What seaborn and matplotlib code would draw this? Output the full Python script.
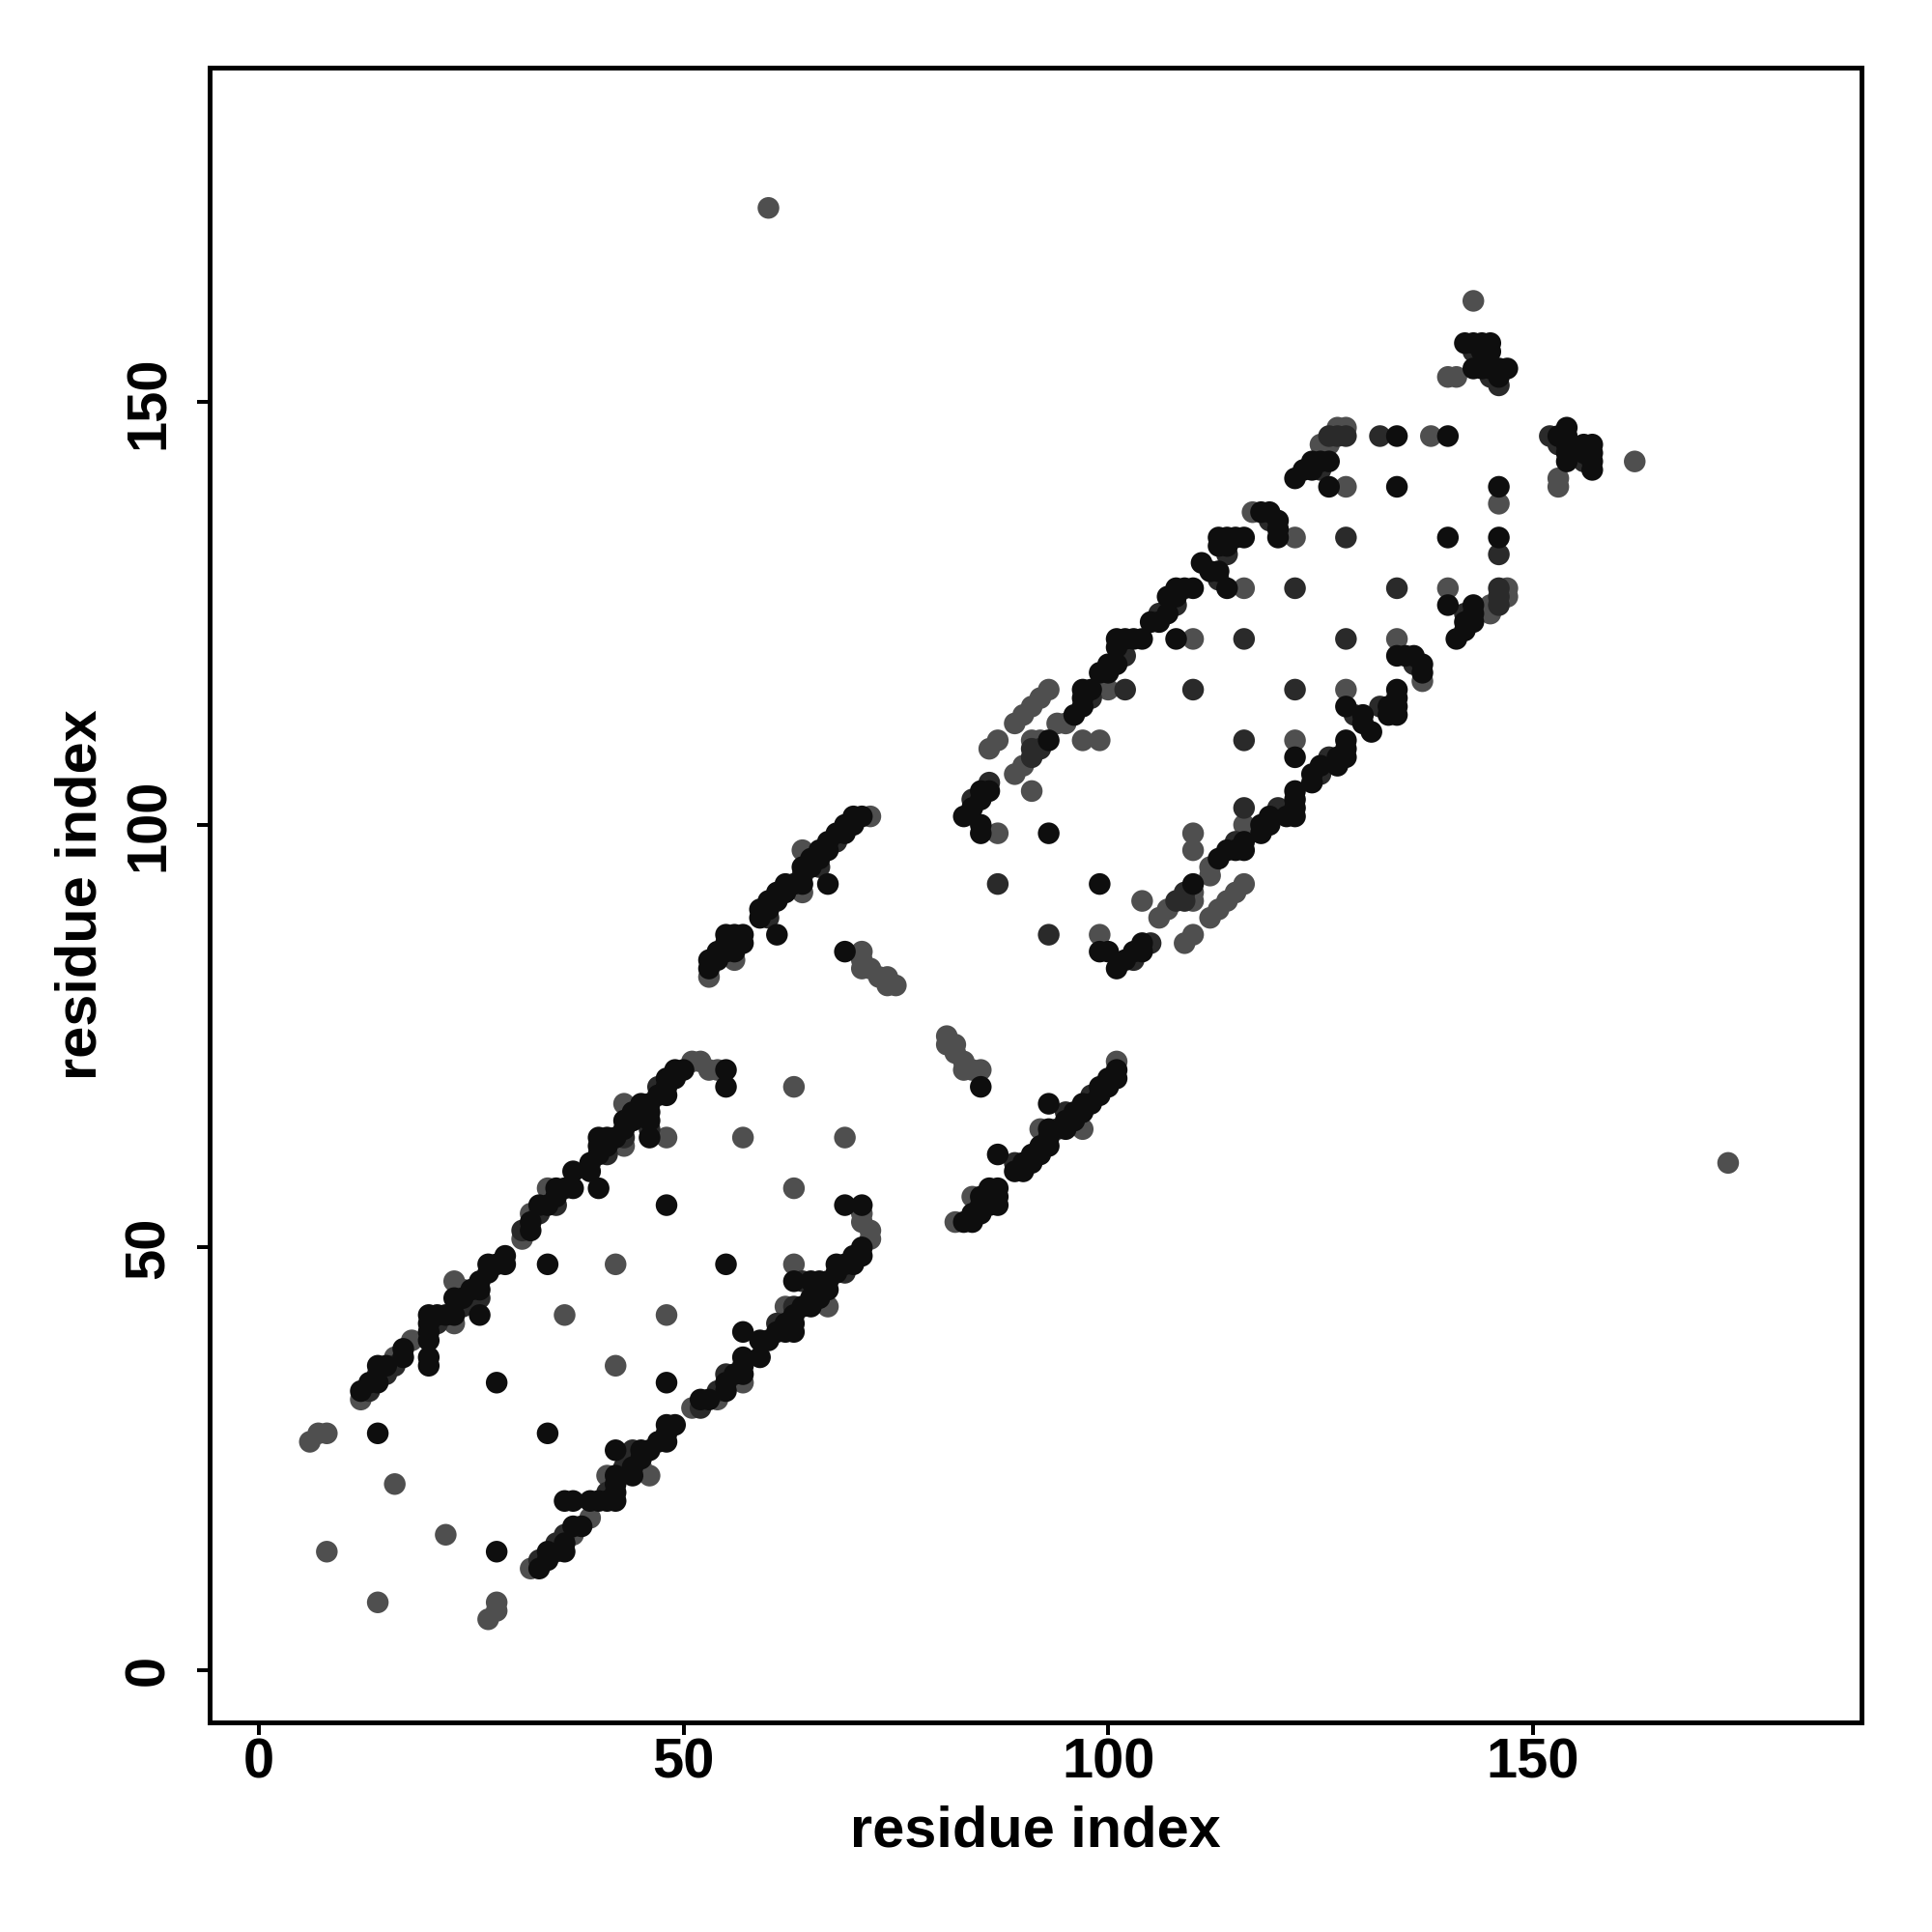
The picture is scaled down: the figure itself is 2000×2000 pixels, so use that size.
import numpy as np
import pandas as pd
import matplotlib
matplotlib.use("Agg")
import matplotlib.pyplot as plt
import seaborn as sns

# contact pairs (i < j), the map is symmetric so the other half is mirrored below
# three shades: gray, dark, black

gray_pairs = [(6, 27), (7, 28), (8, 28), (8, 14), (16, 22), (18, 39), (23, 46), (36, 42),
              (42, 48), (48, 63), (57, 63), (63, 69), (43, 67), (51, 72), (52, 72), (53, 71),
              (54, 71), (12, 32), (16, 37), (23, 41), (24, 45), (31, 51), (32, 54), (34, 57),
              (43, 62),
              (53, 82), (56, 84), (64, 92), (64, 97), (72, 101),
              (71, 85), (71, 84), (71, 83), (72, 83), (73, 82), (74, 82), (74, 81), (75, 81),
              (87, 99), (91, 104), (89, 106), (90, 107), (91, 110), (92, 110), (94, 112), (95, 112),
              (97, 110), (99, 110), (100, 116), (110, 122), (116, 128), (117, 137), (122, 134),
              (128, 140), (138, 146), (125, 145), (126, 145), (127, 147), (128, 147),
              (86, 109), (87, 110), (89, 112), (90, 113), (91, 114), (92, 115), (93, 116),
              (140, 153), (141, 153), (143, 162), (60, 173)]

dark_pairs = [(13, 33), (14, 35), (15, 35), (16, 36), (21, 41), (24, 43), (25, 44), (26, 44),
              (31, 52), (33, 54), (35, 55), (41, 61), (43, 63), (46, 64), (47, 69),
              (56, 86), (60, 89), (64, 94), (66, 95), (68, 98),
              (84, 103), (86, 105), (91, 108), (91, 109), (92, 109), (98, 115), (102, 116),
              (102, 120), (106, 125), (108, 126), (113, 129), (114, 132), (119, 136), (125, 142),
              (126, 146), (127, 146), (128, 146),
              (87, 93), (110, 116), (116, 122), (122, 128), (128, 134), (132, 146),
              (143, 156), (145, 153), (146, 152)]

black_pairs = [(14, 28), (28, 34), (34, 48), (48, 55), (55, 69), (40, 57), (37, 59), (20, 36),
               (20, 37), (26, 42), (55, 71),
               (12, 33), (13, 34), (14, 34), (14, 36), (15, 36), (17, 37), (17, 38),
               (20, 39), (20, 40), (20, 41), (20, 42), (21, 42), (22, 42), (23, 42), (23, 44),
               (24, 44), (25, 45), (26, 45), (26, 46), (27, 47), (27, 48), (28, 48), (29, 48),
               (29, 49), (32, 52), (32, 53), (33, 55), (34, 55), (35, 56), (35, 57), (36, 57),
               (37, 57), (39, 59), (39, 60), (40, 61), (40, 62), (40, 63), (41, 62), (41, 63),
               (42, 63), (43, 64), (43, 65), (44, 65), (44, 66), (45, 66), (45, 67), (46, 63),
               (46, 65), (46, 66), (46, 67), (47, 68), (48, 68), (48, 69), (48, 70), (49, 70),
               (49, 71), (50, 71),
               (53, 83), (53, 84), (54, 84), (54, 85), (55, 85), (55, 86), (55, 87), (56, 85),
               (56, 87), (57, 86), (57, 87), (59, 89), (59, 90), (60, 90), (60, 91), (61, 91),
               (61, 92), (62, 92), (62, 93), (63, 93), (64, 93), (64, 95), (65, 95), (65, 96),
               (66, 96), (66, 97), (67, 97), (67, 98), (68, 99), (69, 99), (69, 100), (70, 100),
               (70, 101), (71, 101), (61, 87), (67, 93), (69, 85),
               (83, 101), (84, 102), (85, 103), (85, 104), (86, 104), (85, 100), (85, 99),
               (93, 110), (93, 99), (96, 113), (97, 114), (97, 115), (97, 116), (98, 116),
               (99, 118), (100, 118), (100, 119), (101, 119), (101, 121), (101, 122), (102, 122),
               (103, 122), (104, 122), (105, 124), (106, 124), (107, 125), (108, 122),
               (107, 127), (108, 127), (108, 128), (109, 128), (110, 128), (111, 131), (112, 130),
               (113, 130), (114, 128), (113, 133), (113, 134), (114, 133), (114, 134), (115, 134),
               (116, 134), (118, 137), (119, 137), (120, 136), (120, 135), (120, 134),
               (122, 141), (123, 142), (124, 142), (124, 143), (125, 143), (126, 143), (126, 140),
               (134, 146), (140, 146), (134, 140),
               (142, 157), (143, 157), (144, 157), (145, 157), (144, 156), (145, 156), (143, 154),
               (144, 154), (145, 154), (146, 154), (147, 154), (146, 153)]

shade_colors = {"gray": "#4f4f4f", "dark": "#2a2a2a", "black": "#0e0e0e"}


def to_frame(pairs, shade):
    a = np.array(pairs)
    upper = pd.DataFrame({"i": a[:, 0], "j": a[:, 1], "shade": shade})
    lower = pd.DataFrame({"i": a[:, 1], "j": a[:, 0], "shade": shade})
    return pd.concat([upper, lower])


contacts = pd.concat([to_frame(gray_pairs, "gray"),
                      to_frame(dark_pairs, "dark"),
                      to_frame(black_pairs, "black")], ignore_index=True)

sns.set_theme(style="white")
plt.rcParams["font.family"] = ["Liberation Sans", "DejaVu Sans"]
plt.rcParams["font.weight"] = "bold"

fig = plt.figure(figsize=(7, 7))
ax = fig.add_axes([0.1085, 0.1085, 0.855, 0.8565])

sns.scatterplot(data=contacts, x="i", y="j", hue="shade", palette=shade_colors,
                hue_order=["gray", "dark", "black"], s=32, linewidth=0, alpha=1,
                legend=False, ax=ax)

ax.set_xlim(-5.8, 188.7)
ax.set_ylim(-6.2, 189.6)
ax.set_xticks([0, 50, 100, 150])
ax.set_yticks([0, 50, 100, 150])
ax.tick_params(axis="both", direction="out", length=3.4, width=1.0, color="black",
               labelsize=14.6, labelcolor="black", bottom=True, left=True)
ax.tick_params(axis="x", pad=0.6)
ax.tick_params(axis="y", pad=5.5)
for lbl in ax.get_yticklabels():
    lbl.set_rotation(90)
    lbl.set_va("center")
    lbl.set_fontweight("bold")
for lbl in ax.get_xticklabels():
    lbl.set_fontweight("bold")

ax.set_xlabel("residue index", fontsize=15, fontweight="bold", color="black", labelpad=4)
ax.set_ylabel("residue index", fontsize=15, fontweight="bold", color="black", labelpad=4)

for sp in ax.spines.values():
    sp.set_visible(True)
    sp.set_color("black")
    sp.set_linewidth(1.25)

fig.savefig("out.png", dpi=2000 / 7, facecolor="white")
